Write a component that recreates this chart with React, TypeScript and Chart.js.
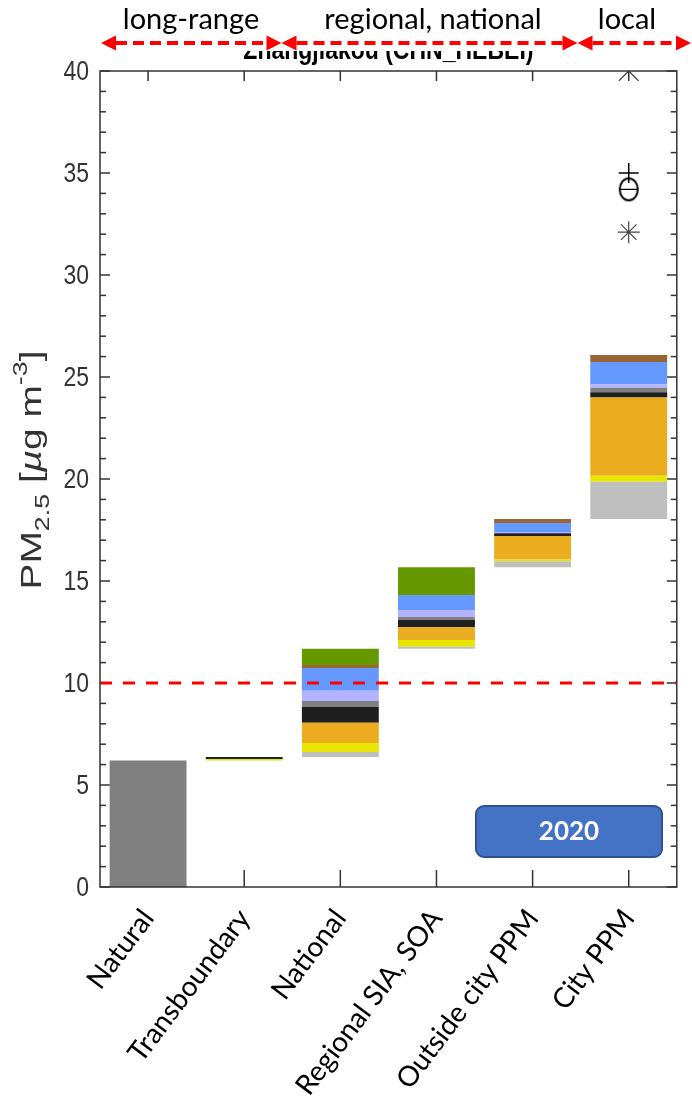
import React, { useEffect, useRef } from 'react';
import { Chart, registerables } from 'chart.js';

Chart.register(...registerables);

// Source categories along the x axis
const categories = ['Natural', 'Transboundary', 'National', 'Regional SIA, SOA', 'Outside city PPM', 'City PPM'];

// Natural background concentration (µg m-3)
const naturalValue = 6.2;

// Contributions per category, listed from the bottom of each floating bar upward (µg m-3)
const dustPart = [0, 0, 0.25, 0.10, 0.30, 1.83];
const yellowPart = [0, 0.08, 0.44, 0.33, 0.09, 0.29];
const orangePart = [0, 0, 0.99, 0.62, 1.14, 3.83];
const blackPart = [0, 0.09, 0.77, 0.36, 0.14, 0.26];
const grayPart = [0, 0, 0.30, 0.15, 0, 0.22];
const lavenderPart = [0, 0, 0.50, 0.34, 0.06, 0.18];
const bluePart = [0, 0, 1.12, 0.73, 0.44, 1.08];
const brownPart = [0, 0, 0.14, 0, 0.20, 0.35];
const greenPart = [0, 0, 0.80, 1.36, 0, 0];

const componentValues = [dustPart, yellowPart, orangePart, blackPart, grayPart, lavenderPart, bluePart, brownPart, greenPart];
const componentColors = ['#BFBFBF', '#E6E600', '#EBAC1F', '#1F1F1F', '#808080', '#B3B3FF', '#6699FF', '#996633', '#669900'];

// Other estimates for the city total
const crossValue = 40;
const plusValue = 35;
const circleValue = 34.2;
const starValue = 32.1;

// WHO guideline
const guidelineValue = 10;

// Y axis ticks
const yTicks = [0, 5, 10, 15, 20, 25, 30, 35, 40];

const regionLabels = ['long-range', 'regional, national', 'local'];

const AXIS = '#333333';
const RED = '#FF0000';
const STRETCH = 1.22; // figure text is drawn taller than wide

function buildRanges() {
  const ranges = componentValues.map(() => categories.map(() => null as null | [number, number]));
  let base = naturalValue;
  for (let c = 1; c < categories.length; c++) {
    let level = base;
    componentValues.forEach((vals, k) => {
      const v = vals[c];
      if (v > 0) {
        ranges[k][c] = [level, level + v];
        level += v;
      }
    });
    base = level;
  }
  return ranges;
}

function line(ctx: CanvasRenderingContext2D, x1: number, y1: number, x2: number, y2: number) {
  ctx.beginPath();
  ctx.moveTo(x1, y1);
  ctx.lineTo(x2, y2);
  ctx.stroke();
}

function doubleArrow(ctx: CanvasRenderingContext2D, x1: number, x2: number, y: number) {
  const head = 15;
  const half = 7.5;
  ctx.save();
  ctx.strokeStyle = RED;
  ctx.fillStyle = RED;
  ctx.lineWidth = 4;
  ctx.setLineDash([11, 6]);
  line(ctx, x1 + head, y, x2 - head, y);
  ctx.setLineDash([]);
  ctx.beginPath();
  ctx.moveTo(x1, y);
  ctx.lineTo(x1 + head, y - half);
  ctx.lineTo(x1 + head, y + half);
  ctx.closePath();
  ctx.fill();
  ctx.beginPath();
  ctx.moveTo(x2, y);
  ctx.lineTo(x2 - head, y - half);
  ctx.lineTo(x2 - head, y + half);
  ctx.closePath();
  ctx.fill();
  ctx.restore();
}

const decorPlugin = {
  id: 'decor',
  beforeDatasetsDraw(chart: any) {
    const { ctx, chartArea: a, scales } = chart;
    const x = scales.x;
    const y = scales.y;
    ctx.save();
    ctx.strokeStyle = AXIS;
    ctx.lineWidth = 1.5;
    for (let v = 0; v <= 40; v++) {
      const py = y.getPixelForValue(v);
      const len = v % 5 === 0 ? 10 : 6;
      line(ctx, a.left, py, a.left + len, py);
      line(ctx, a.right, py, a.right - len, py);
    }
    categories.forEach((_, i) => {
      const px = x.getPixelForValue(i);
      line(ctx, px, a.bottom, px, a.bottom - 17);
      line(ctx, px, a.top, px, a.top + 10);
    });
    ctx.restore();
  },
  afterDatasetsDraw(chart: any) {
    const { ctx, chartArea: a, scales } = chart;
    const y = scales.y;
    ctx.save();
    // WHO guideline
    const gy = y.getPixelForValue(guidelineValue);
    ctx.strokeStyle = RED;
    ctx.lineWidth = 3;
    ctx.setLineDash([12, 11]);
    line(ctx, a.left, gy, a.right, gy);
    ctx.setLineDash([]);
    // axes box
    ctx.strokeStyle = AXIS;
    ctx.lineWidth = 1.5;
    ctx.strokeRect(a.left, a.top, a.right - a.left, a.bottom - a.top);
    ctx.restore();
  },
  afterDraw(chart: any) {
    const { ctx, chartArea: a, scales } = chart;
    const y = scales.y;
    ctx.save();

    // y tick labels
    ctx.fillStyle = AXIS;
    ctx.font = '23px "Liberation Sans", Arial, sans-serif';
    ctx.textAlign = 'right';
    ctx.textBaseline = 'middle';
    yTicks.forEach((v) => {
      ctx.save();
      ctx.translate(a.left - 11, y.getPixelForValue(v) + 1);
      ctx.scale(1, STRETCH);
      ctx.fillText(String(v), 0, 0);
      ctx.restore();
    });

    // chart title, partly hidden under the header band
    ctx.fillStyle = '#000';
    ctx.textAlign = 'center';
    ctx.textBaseline = 'alphabetic';
    ctx.save();
    ctx.translate((a.left + a.right) / 2, 59);
    ctx.scale(1, STRETCH);
    ctx.font = 'bold 23px "Liberation Sans", Arial, sans-serif';
    ctx.fillText('Zhangjiakou (CHN_HEBEI)', 0, 0);
    ctx.restore();
    ctx.fillStyle = '#FFFFFF';
    ctx.fillRect(0, 0, chart.width, 51);

    // header: source range labels with arrows
    ctx.fillStyle = '#000';
    ctx.font = '29px Lato, sans-serif';
    ctx.fillText(regionLabels[0], 191, 29);
    ctx.fillText(regionLabels[1], 433, 29);
    ctx.fillText(regionLabels[2], 627, 29);
    doubleArrow(ctx, 101, 281.5, 43);
    doubleArrow(ctx, 281.5, 577.5, 43);
    doubleArrow(ctx, 577.5, 691, 43);

    // year badge
    ctx.beginPath();
    ctx.roundRect(476, 806, 186, 51, 8);
    ctx.fillStyle = '#4472C4';
    ctx.fill();
    ctx.strokeStyle = '#2F528F';
    ctx.lineWidth = 2;
    ctx.stroke();
    ctx.fillStyle = '#FFFFFF';
    ctx.font = 'bold 26px Lato, sans-serif';
    ctx.textBaseline = 'middle';
    ctx.fillText('2020', 569, 832);

    // y axis title: PM2.5 [µg m-3]
    const big = 29;
    const small = 20;
    const fam = '"Liberation Sans", Arial, sans-serif';
    const parts = [
      { t: 'PM', f: `${big}px ${fam}`, dy: 0 },
      { t: '2.5', f: `${small}px ${fam}`, dy: 8 },
      { t: ' [', f: `${big}px ${fam}`, dy: 0 },
      { t: 'µ', f: `italic ${big}px ${fam}`, dy: 0 },
      { t: 'g m', f: `${big}px ${fam}`, dy: 0 },
      { t: '-3', f: `${small}px ${fam}`, dy: -14 },
      { t: ']', f: `${big}px ${fam}`, dy: 0 },
    ];
    let total = 0;
    const widths = parts.map((p) => {
      ctx.font = p.f;
      const w = ctx.measureText(p.t).width;
      total += w;
      return w;
    });
    ctx.translate(41, 470);
    ctx.rotate(-Math.PI / 2);
    ctx.scale(1.34, 1);
    ctx.fillStyle = AXIS;
    ctx.textAlign = 'left';
    ctx.textBaseline = 'alphabetic';
    let cx = -total / 2;
    parts.forEach((p, i) => {
      ctx.font = p.f;
      ctx.fillText(p.t, cx, p.dy);
      cx += widths[i];
    });
    ctx.restore();
  },
};

function ellipseMarker() {
  const c = document.createElement('canvas');
  c.width = 24;
  c.height = 28;
  const g = c.getContext('2d')!;
  g.strokeStyle = '#000';
  g.lineWidth = 2;
  g.beginPath();
  g.ellipse(12, 14, 9, 11, 0, 0, Math.PI * 2);
  g.stroke();
  return c;
}

function markerSeries(value: number) {
  return categories.map((_, i) => (i === categories.length - 1 ? value : null));
}

export default function App() {
  const canvasRef = useRef<HTMLCanvasElement>(null);

  useEffect(() => {
    const ranges = buildRanges();
    const barSets: any[] = [
      {
        type: 'bar',
        label: 'Natural',
        data: categories.map((_, i) => (i === 0 ? [0, naturalValue] : null)),
        backgroundColor: '#808080',
      },
      ...ranges.map((r, k) => ({
        type: 'bar',
        label: `source ${k + 1}`,
        data: r,
        backgroundColor: componentColors[k],
      })),
    ];
    const markerBase = {
      type: 'line',
      showLine: false,
      pointBackgroundColor: 'rgba(0,0,0,0)',
    };
    const markerSets: any[] = [
      { ...markerBase, label: 'x', data: markerSeries(crossValue), pointStyle: 'crossRot', pointRadius: 14, pointBorderColor: '#333', pointBorderWidth: 1.2 },
      { ...markerBase, label: '+', data: markerSeries(plusValue), pointStyle: 'cross', pointRadius: 10, pointBorderColor: '#000', pointBorderWidth: 1.5 },
      { ...markerBase, label: 'o', data: markerSeries(circleValue), pointStyle: ellipseMarker(), pointRadius: 10 },
      { ...markerBase, label: '-', data: markerSeries(circleValue), pointStyle: 'line', pointRadius: 9, pointBorderColor: '#000', pointBorderWidth: 1.2 },
      { ...markerBase, label: '*', data: markerSeries(starValue), pointStyle: 'star', pointRadius: 11, pointBorderColor: '#444', pointBorderWidth: 1.2 },
    ];

    const chart = new Chart(canvasRef.current!, {
      type: 'bar',
      data: { labels: categories, datasets: [...markerSets, ...barSets] },
      options: {
        responsive: false,
        animation: false,
        devicePixelRatio: 1,
        layout: { padding: { top: 71, right: 10, left: 0, bottom: 0 } },
        datasets: {
          bar: { grouped: false, barPercentage: 0.8, categoryPercentage: 1, borderWidth: 0 },
        },
        plugins: { legend: { display: false }, tooltip: { enabled: false }, title: { display: false } },
        scales: {
          x: {
            offset: true,
            grid: { display: false, drawTicks: false },
            border: { display: false },
            ticks: {
              autoSkip: false,
              minRotation: 53,
              maxRotation: 53,
              padding: 16,
              color: '#000',
              font: { family: 'Lato, sans-serif', size: 28 },
            },
            afterFit: (s: any) => {
              s.height = 219;
              s.paddingRight = 0;
              s.paddingLeft = 0;
            },
          },
          y: {
            min: 0,
            max: 40,
            afterBuildTicks: (s: any) => {
              s.ticks = yTicks.map((v) => ({ value: v }));
            },
            grid: { display: false, drawTicks: false },
            border: { display: false },
            ticks: { display: false },
            afterFit: (s: any) => {
              s.width = 100;
            },
          },
        },
      },
      plugins: [decorPlugin],
    } as any);
    return () => chart.destroy();
  }, []);

  return (
    <div style={{ position: 'absolute', left: 0, top: 0, width: 692, height: 1106, background: '#fff' }}>
      <canvas ref={canvasRef} width={692} height={1106} style={{ display: 'block' }} />
    </div>
  );
}
